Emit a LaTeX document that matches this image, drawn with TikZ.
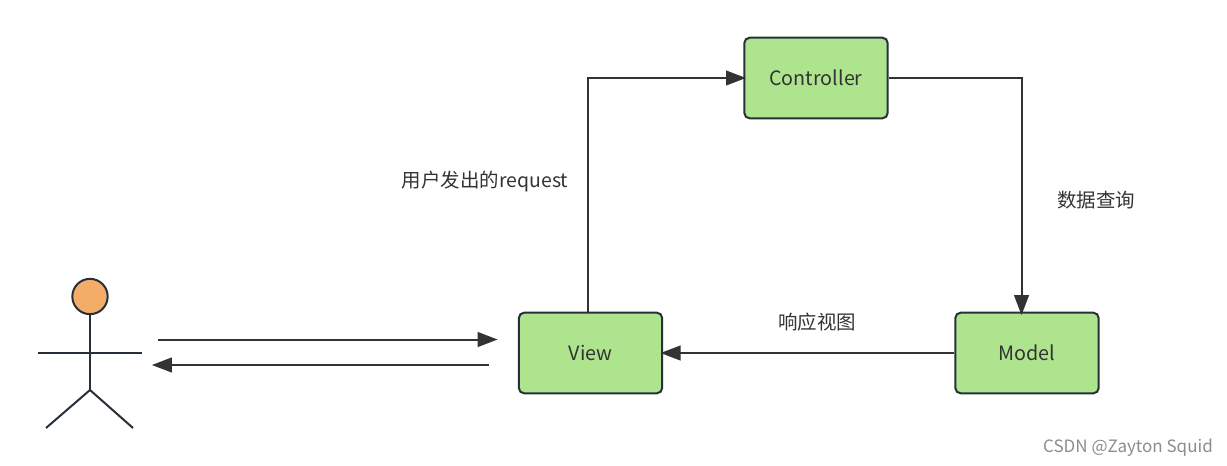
\documentclass[tikz,border=0pt]{standalone}
\usepackage{fontspec}
\setmainfont{Noto Sans CJK SC}
\usetikzlibrary{arrows.meta}
\definecolor{boxgreen}{HTML}{AEE48E}
\definecolor{headorange}{HTML}{F4AD69}
\definecolor{edgedark}{HTML}{25303A}
\definecolor{arrowdark}{HTML}{333333}
\newcommand{\mvcboxnode}[2] {\node at (#1) (#2) [draw=edgedark, line width=1.5pt, fill=boxgreen, rounded corners=4pt, minimum width=107.5pt, minimum height=60.5pt, inner sep=0pt, text=arrowdark, font=\fontsize{14.8}{16}\selectfont] {#2};}
\newcommand{\mvcarrow}[2] {\draw [arrowdark, line width=1.5pt, shorten >=-2pt, -{Triangle[length=15pt,width=11pt]}] (#1) -- (#2);}
\newcommand{\mvcelbow}[3] {\draw [arrowdark, line width=1.5pt, shorten >=-2pt, -{Triangle[length=15pt,width=11pt]}] (#1) #3 (#2);}
\newcommand{\mvclabel}[3] {\node at (#1) (#2) [text=arrowdark, inner sep=0pt, font=\fontsize{14.6}{16}\selectfont] {#3};}

\begin{document}
\begin{tikzpicture}[x=0.75pt, y=-0.75pt]
\useasboundingbox (0,0) rectangle (1227,465);

\mvcboxnode {816,78}{Controller};
\mvcboxnode {590.5,353}{View};
\mvcboxnode {1027,353}{Model};

% stick figure
\node at (90,296.5) (head) [circle, draw=edgedark, line width=1.5pt, fill=headorange, minimum size=26.5pt, inner sep=0pt] {};
\coordinate (hip) at (90,390);
\coordinate (armleft) at (38,353);
\coordinate (armright) at (142,353);
\coordinate (footleft) at (46,428);
\coordinate (footright) at (133,428);
\draw [edgedark, line width=1.5pt] (head) -- (hip);
\draw [edgedark, line width=1.5pt] (armleft) -- (armright);
\draw [edgedark, line width=1.5pt] (footleft) -- (hip) -- (footright);

% free ends of the connectors
\coordinate (requeststart) at (158,339.5);
\coordinate (requestend) at (495,339.5);
\coordinate (responsestart) at (489,365);
\coordinate (responseend) at (154.5,365);
\coordinate (viewtop) at (588,313);
\coordinate (modeltop) at (1021.5,312.5);

\mvcarrow{requeststart}{requestend};
\mvcarrow{responsestart}{responseend};
\mvcelbow{viewtop}{Controller}{|-};
\mvcelbow{Controller}{modeltop}{-|};
\mvcarrow{Model}{View};

\mvclabel{485,181}{requestlabel}{用户发出的request};
\mvclabel{1096,200}{querylabel}{数据查询};
\mvclabel{817,322}{viewlabel}{响应视图};
\node at (1128,447.5) (watermark) [text=black!45, inner sep=0pt, font=\fontsize{12.75}{14}\selectfont] {CSDN @Zayton Squid};

\end{tikzpicture}
\end{document}
